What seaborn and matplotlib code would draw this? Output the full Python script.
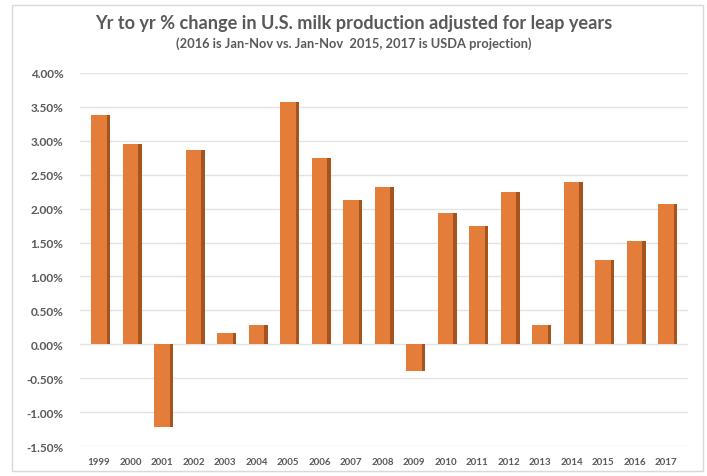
import numpy as np
import pandas as pd
import seaborn as sns
import matplotlib.pyplot as plt
from matplotlib.patches import Rectangle
from matplotlib.ticker import FuncFormatter

YEARS = [str(y) for y in range(1999, 2018)]
PCT_CHANGE = [
    3.38, 2.95, -1.22, 2.86, 0.17, 0.29, 3.57, 2.74, 2.12, 2.32,
    -0.40, 1.94, 1.75, 2.24, 0.29, 2.40, 1.25, 1.53, 2.07,
]
Y_TICKS = [-1.5, -1.0, -0.5, 0.0, 0.5, 1.0, 1.5, 2.0, 2.5, 3.0, 3.5, 4.0]

FRONT_COLOR = "#E47D3A"
SIDE_COLOR = "#A5531F"
TEXT_COLOR = "#595959"

sns.set_theme(style="white")
plt.rcParams["font.family"] = ["Lato", "DejaVu Sans"]

df = pd.DataFrame({"year": YEARS, "pct": PCT_CHANGE})

fig = plt.figure(figsize=(7.07, 4.77), dpi=100)
ax = fig.add_axes([80 / 707, 1 - 447 / 477, 608 / 707, 373 / 477])

# outer chart frame
fig.patches.append(Rectangle((12 / 707, 5 / 477), 691 / 707, 466 / 477,
                             transform=fig.transFigure, fill=False,
                             edgecolor="#D9D9D9", linewidth=1))

# darker side face to fake the 3d look
x = np.arange(len(YEARS))
ax.bar(x + 0.305, df["pct"], width=0.12, color=SIDE_COLOR, linewidth=0, zorder=2)
sns.barplot(data=df, x="year", y="pct", color=FRONT_COLOR, width=0.5,
            saturation=1, linewidth=0, ax=ax, zorder=3)

ax.set_ylim(-1.5, 4.0)
ax.set_xlim(-0.6, len(YEARS) - 0.3)
ax.set_yticks(Y_TICKS)
ax.yaxis.set_major_formatter(FuncFormatter(lambda v, p: f"{v:.2f}%"))
ax.grid(axis="y", color="#E3E3E3", linewidth=1, zorder=0)
ax.set_axisbelow(True)
for s in ax.spines.values():
    s.set_visible(False)
ax.set_xlabel("")
ax.set_ylabel("")
ax.tick_params(axis="y", labelsize=8.5, labelcolor=TEXT_COLOR, pad=12, length=0)
ax.tick_params(axis="x", labelsize=7, labelcolor=TEXT_COLOR, pad=8, length=0)
for lbl in ax.get_yticklabels() + ax.get_xticklabels():
    lbl.set_fontweight("bold")

fig.text(0.5, 1 - 24 / 477, "Yr to yr % change in U.S. milk production adjusted for leap years",
         ha="center", va="center", fontsize=13.1, color=TEXT_COLOR, fontweight="bold")
fig.text(0.5, 1 - 44 / 477, "(2016 is Jan-Nov vs. Jan-Nov  2015, 2017 is USDA projection)",
         ha="center", va="center", fontsize=9.3, color=TEXT_COLOR, fontweight="bold")

fig.savefig("out.png", dpi=100)
